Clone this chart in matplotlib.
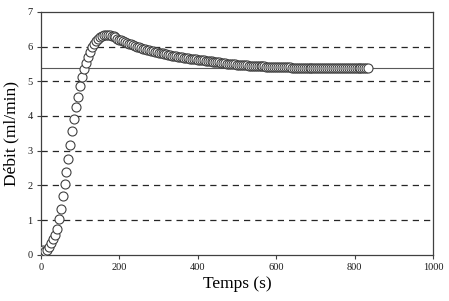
import matplotlib
matplotlib.use("Agg")
import matplotlib.pyplot as plt

# temps (s) et débit (ml/min)
temps = [
    0, 5, 10, 15, 20, 25, 30, 35, 40, 45, 50, 55, 60, 65, 70, 75, 80, 85, 90, 95,
    100, 105, 110, 115, 120, 125, 130, 135, 140, 145, 150, 155, 160, 165, 170, 175, 180, 185, 190, 195,
    200, 205, 210, 215, 220, 225, 230, 235, 240, 245, 250, 255, 260, 265, 270, 275, 280, 285, 290, 295,
    300, 305, 310, 315, 320, 325, 330, 335, 340, 345, 350, 355, 360, 365, 370, 375, 380, 385, 390, 395,
    400, 405, 410, 415, 420, 425, 430, 435, 440, 445, 450, 455, 460, 465, 470, 475, 480, 485, 490, 495,
    500, 505, 510, 515, 520, 525, 530, 535, 540, 545, 550, 555, 560, 565, 570, 575, 580, 585, 590, 595,
    600, 605, 610, 615, 620, 625, 630, 635, 640, 645, 650, 655, 660, 665, 670, 675, 680, 685, 690, 695,
    700, 705, 710, 715, 720, 725, 730, 735, 740, 745, 750, 755, 760, 765, 770, 775, 780, 785, 790, 795,
    800, 805, 810, 815, 820, 825, 830, 835,
]
debit = [
    0.12, 0.13, 0.12, 0.14, 0.22, 0.33, 0.45, 0.56, 0.75, 1.02, 1.33, 1.68, 2.03, 2.38, 2.77, 3.17, 3.57, 3.91, 4.25, 4.56,
    4.86, 5.12, 5.34, 5.53, 5.71, 5.85, 5.98, 6.08, 6.16, 6.22, 6.27, 6.30, 6.32, 6.33, 6.33, 6.32, 6.31, 6.29, 6.26, 6.23,
    6.20, 6.18, 6.15, 6.13, 6.11, 6.08, 6.06, 6.04, 6.02, 6.00, 5.98, 5.96, 5.94, 5.93, 5.91, 5.89, 5.88, 5.86, 5.85, 5.83,
    5.82, 5.81, 5.80, 5.78, 5.77, 5.76, 5.75, 5.74, 5.73, 5.72, 5.71, 5.70, 5.69, 5.68, 5.67, 5.66, 5.65, 5.65, 5.64, 5.63,
    5.62, 5.61, 5.60, 5.60, 5.59, 5.58, 5.57, 5.57, 5.56, 5.55, 5.54, 5.54, 5.53, 5.52, 5.52, 5.51, 5.50, 5.50, 5.49, 5.49,
    5.48, 5.48, 5.47, 5.47, 5.46, 5.46, 5.45, 5.45, 5.45, 5.44, 5.44, 5.44, 5.43, 5.43, 5.43, 5.42, 5.42, 5.42, 5.42, 5.41,
    5.41, 5.41, 5.41, 5.40, 5.40, 5.40, 5.40, 5.40, 5.39, 5.39, 5.39, 5.39, 5.39, 5.39, 5.38, 5.38, 5.38, 5.38, 5.38, 5.38,
    5.38, 5.38, 5.38, 5.38, 5.37, 5.37, 5.37, 5.37, 5.37, 5.37, 5.37, 5.37, 5.37, 5.37, 5.37, 5.37, 5.37, 5.37, 5.37, 5.37,
    5.37, 5.37, 5.37, 5.37, 5.37, 5.37, 5.37, 5.37,
]
debit_stable = 5.38
grille_y = [1, 2, 3, 4, 5, 6]
ticks_x = [0, 200, 400, 600, 800, 1000]
ticks_y = [0, 1, 2, 3, 4, 5, 6, 7]

plt.rcParams['font.family'] = ['Liberation Serif', 'DejaVu Serif']

fig = plt.figure(figsize=(4.49, 3.01), dpi=100)
ax = fig.add_axes([0.0913, 0.1535, 0.8731, 0.8073])

# lignes pointillées horizontales
for g in grille_y:
    ax.axhline(g, color='0.15', linestyle=(0, (5, 4)), linewidth=0.9, zorder=1)

# débit stabilisé
ax.axhline(debit_stable, color='0.35', linewidth=0.8, zorder=1)

ax.plot(temps, debit, linestyle='none', marker='o', markersize=6.5,
        markerfacecolor='white', markeredgecolor='0.25', markeredgewidth=0.8, zorder=3)

ax.set_xlim(0, 1000)
ax.set_ylim(0, 7)
ax.set_xticks(ticks_x)
ax.set_yticks(ticks_y)
ax.tick_params(direction='out', length=3, width=0.8, labelsize=7.5, color='0.25',
               labelcolor='0.1', pad=3)
for s in ax.spines.values():
    s.set_color('0.25')
    s.set_linewidth(0.9)

ax.set_xlabel('Temps (s)', fontsize=12.5, labelpad=3)
ax.set_ylabel('Débit (ml/min)', fontsize=12.5, labelpad=6)

plt.savefig('out.png', dpi=100)
